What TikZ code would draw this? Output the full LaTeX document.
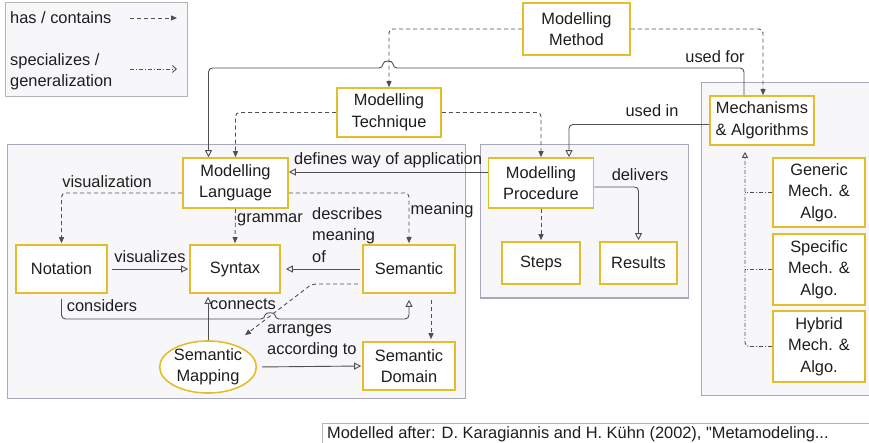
\documentclass[tikz,border=0pt]{standalone}
\usepackage{fontspec}
\setmainfont{Liberation Sans}
\newfontfamily\citefont[Ligatures=TeXOff]{Liberation Sans}
\usetikzlibrary{arrows.meta,calc,shapes.geometric}

\definecolor{gold}{HTML}{E3BE2C}
\definecolor{linegrey}{HTML}{505050}
\definecolor{groupline}{HTML}{A8A8BC}
\definecolor{groupfill}{HTML}{F7F7FA}
\definecolor{legendline}{HTML}{B4B4B4}
\definecolor{ink}{HTML}{1E1E1E}

\begin{document}
\begin{tikzpicture}[x=1pt,y=-1pt,
  every node/.style={font=\fontsize{16.4}{21.5}\selectfont, text=ink},
  concept/.style={draw=gold, line width=1.6pt, fill=white, align=center, inner sep=1pt},
  grp/.style={draw=groupline, line width=1pt, fill=groupfill},
  has/.style={draw=linegrey, line width=0.9pt, dash pattern=on 4pt off 3pt,
    -{Triangle[length=6pt,width=5pt]}, rounded corners=4pt},
  rel/.style={draw=linegrey, line width=0.9pt,
    -{Triangle[open,length=7pt,width=7pt]}, rounded corners=4pt},
  gen/.style={draw=linegrey, line width=0.9pt, dash pattern=on 4pt off 2pt on 1pt off 2pt,
    rounded corners=4pt},
  lbl/.style={inner sep=0pt, align=left},
]
\useasboundingbox (0,0) rectangle (869,443);

% grouping panels
\draw[grp] (7,145) rectangle (465,398);
\draw[grp] (480,145) rectangle (688,298);
\draw[grp] (701,83) rectangle (880,395);

% legend
\draw[draw=legendline, fill=groupfill, line width=1pt] (5,3) rectangle (187,97);
\node[lbl, anchor=west] (lhas) at (10,18) {has / contains};
\node[lbl, anchor=west] (lspec) at (10,72) {specializes /\\generalization};
\coordinate (lh1) at (130,18);  \coordinate (lh2) at (177,18);
\coordinate (ls1) at (130,69);  \coordinate (ls2) at (177,69);
\draw[has] (lh1) -- (lh2);
\draw[gen, -{Straight Barb[length=4pt,width=7pt]}] (ls1) -- (ls2);

% concepts
\node[concept, minimum width=107pt, minimum height=52pt] (mm)   at (576.5,29)  {Modelling\\Method};
\node[concept, minimum width=104pt, minimum height=49pt] (tech) at (389,112.5) {Modelling\\Technique};
\node[concept, minimum width=104pt, minimum height=49pt] (mech) at (762,120.5) {Mechanisms\\\& Algorithms};
\node[concept, minimum width=105pt, minimum height=50pt] (lang) at (235.5,183) {Modelling\\Language};
\node[concept, minimum width=105pt, minimum height=50pt] (proc) at (541,183)   {Modelling\\Procedure};
\node[concept, minimum width=91pt,  minimum height=48pt] (nota) at (61.5,269)  {Notation};
\node[concept, minimum width=90pt,  minimum height=48pt] (syn)  at (235,269)   {Syntax};
\node[concept, minimum width=92pt,  minimum height=48pt] (sem)  at (409,269)   {Semantic};
\node[concept, minimum width=92pt,  minimum height=48pt] (dom)  at (409,366)   {Semantic\\Domain};
\node[concept, shape=ellipse, inner sep=0pt, minimum width=90pt, minimum height=48pt] (map) at (208,367) {Semantic\\Mapping};
\node[concept, minimum width=78pt,  minimum height=42pt] (steps) at (541,263)  {Steps};
\node[concept, minimum width=77pt,  minimum height=42pt] (res)  at (638.5,263) {Results};
\node[concept, minimum width=92pt,  minimum height=69pt] (gmech) at (819,192.5) {Generic\\Mech. \&\\Algo.};
\node[concept, minimum width=92pt,  minimum height=71pt] (smech) at (819,269.5) {Specific\\Mech. \&\\Algo.};
\node[concept, minimum width=92pt,  minimum height=71pt] (hmech) at (819,346.5) {Hybrid\\Mech. \&\\Algo.};

% method level
\draw[has] (mm.east) -| ($(mech.north)+(1,0)$);
\draw[has] (mm.west) -| (tech.north);
\draw[has] (tech.west) -| (lang.north);
\draw[has] (tech.east) -| (proc.north);
\draw[rel] ($(mech.north)+(-18,0)$) |- (393,68) .. controls (393,60) and (383,60) .. (383,68)
  -| ($(lang.north)+(-27,0)$);
\node[lbl] (lusedfor) at (715,57) {used for};
\draw[rel] ($(mech.west)+(0,4)$) -| ($(proc.north)+(28,0)$);
\node[lbl] (lusedin) at (652,111) {used in};

% procedure
\draw[rel] ($(proc.west)+(0,-11)$) -- ($(lang.east)+(0,-11)$);
\node[lbl, anchor=west] (ldefines) at (294,160) {defines way of application};
\draw[rel, shorten >=1pt] ($(proc.east)+(0,4)$) -| (res.north);
\node[lbl] (ldelivers) at (640,175) {delivers};
\draw[has, shorten >=1pt] (proc.south) -- (steps.north);

% language
\draw[has, shorten >=1pt] ($(lang.west)+(0,10)$) -| (nota.north);
\node[lbl] (lvisn) at (107,182) {visualization};
\draw[has, shorten >=1pt] (lang.south) -- (syn.north);
\node[lbl] (lgrammar) at (270,220) {grammar};
\draw[has, shorten >=1pt] ($(lang.east)+(0,10)$) -| (sem.north);
\node[lbl] (lmeaning) at (442,210) {meaning};

\draw[rel, shorten <=4pt, shorten >=1pt] (nota.east) -- (syn.west);
\node[lbl] (lvisz) at (150,257) {visualizes};
\draw[rel, shorten <=2pt, shorten >=5pt] (sem.west) -- (syn.east);
\node[lbl, anchor=north west] (ldescr) at (312,207) {describes\\meaning\\of};

\draw[has] ($(sem.west)+(-4,15)$) -- (312,284) -- ($(map.north)+(37,-5)$);
\draw[rel, shorten <=5pt, shorten >=6pt] (nota.south) |- (265,319)
  .. controls (265,312) and (275,312) .. (275,319) -| (sem.south);
\node[lbl] (lconsiders) at (102,306) {considers};
\draw[rel, shorten >=3pt] (map.north) -- (map.north |- syn.south);
\node[lbl] (lconnects) at (243,304) {connects};
\draw[has, shorten <=6pt, shorten >=2pt] ($(sem.south)+(22,0)$) -- ($(dom.north)+(22,0)$);
\draw[rel, shorten <=5pt, shorten >=1pt] (map.east) -- (dom.west);
\node[lbl, anchor=north west] (larranges) at (267,324) {arranges\\according to};

% mechanism specialisations
\coordinate (mtrunk) at ($(mech.south)+(-17,0)$);
\draw[gen, -{Triangle[open,length=6pt,width=6pt]}, shorten >=6pt] (hmech.west) -| (mtrunk);
\draw[gen] (gmech.west) -- (gmech.west -| mtrunk);
\draw[gen] (smech.west) -- (smech.west -| mtrunk);

% citation
\draw[draw=legendline, fill=white, line width=1pt] (322,423) rectangle (880,450);
\node[lbl, anchor=west, font=\citefont\fontsize{16.4}{20}\selectfont] (cite) at (327,434)
  {Modelled after: D. Karagiannis and H. Kühn (2002), "Metamodeling...};
\end{tikzpicture}
\end{document}
